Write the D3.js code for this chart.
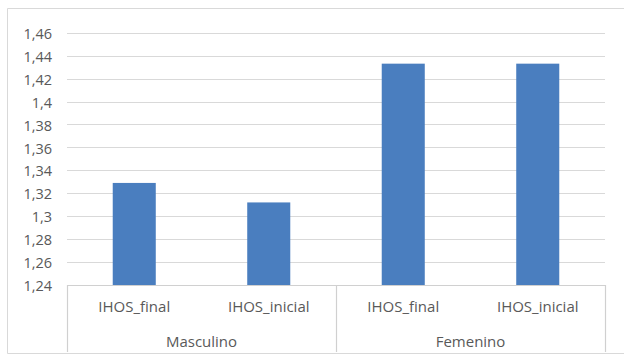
<!DOCTYPE html>
<html>
<head>
<meta charset="utf-8">
<script src="https://cdn.jsdelivr.net/npm/d3@7/dist/d3.min.js"></script>
<style>
  html, body { margin: 0; padding: 0; background: #fff; }
  svg { display: block; }
  text { font-family: "Open Sans", "Liberation Sans", Arial, sans-serif; fill: #595959; }
</style>
</head>
<body>
<svg id="chart" width="624" height="357"></svg>
<script>
// IHOS by sex, final vs. initial measurement
const groups = ["Masculino", "Femenino"];
const measures = ["IHOS_final", "IHOS_inicial"];
const masculinoValues = [1.329, 1.312];
const femeninoValues = [1.433, 1.433];
const yTicks = [1.24, 1.26, 1.28, 1.30, 1.32, 1.34, 1.36, 1.38, 1.40, 1.42, 1.44, 1.46];

const rows = [];
[masculinoValues, femeninoValues].forEach((vals, gi) => {
  vals.forEach((v, mi) => rows.push({ group: groups[gi], measure: measures[mi], key: groups[gi] + "|" + measures[mi], value: v }));
});

const svg = d3.select("#chart");
const plotLeft = 67, plotRight = 605, plotTop = 32.7, plotBottom = 285, axisBottom = 352;
const fontStack = "'Open Sans', 'Liberation Sans', Arial, sans-serif";

// chart area frame (right edge runs off the canvas)
svg.append("path")
  .attr("d", `M700,8.5 H7.5 V353.5 H700`)
  .attr("fill", "none").attr("stroke", "#d9d9d9").attr("stroke-width", 1);

const y = d3.scaleLinear().domain([1.24, 1.46]).range([plotBottom, plotTop]);
const x = d3.scaleBand().domain(rows.map(d => d.key)).range([plotLeft, plotRight]).padding(0);
const barW = x.bandwidth() * 0.32;

const fmt = v => d3.format(".2~f")(v).replace(".", ",");

// horizontal gridlines
svg.append("g").selectAll("line").data(yTicks.slice(1)).join("line")
  .attr("x1", plotLeft).attr("x2", plotRight)
  .attr("y1", d => Math.round(y(d)) + 0.5).attr("y2", d => Math.round(y(d)) + 0.5)
  .attr("stroke", "#d9d9d9").attr("stroke-width", 1.2);

// value axis labels
const yAxis = d3.axisLeft(y).tickValues(yTicks).tickFormat(fmt).tickSize(0).tickPadding(0);
const gy = svg.append("g").attr("transform", `translate(${52},1)`).call(yAxis);
gy.select(".domain").remove();
gy.selectAll("text").attr("font-size", 14.5).style("font-family", fontStack).attr("fill", "#595959");

// bars
svg.append("g").selectAll("rect").data(rows).join("rect")
  .attr("x", d => x(d.key) + (x.bandwidth() - barW) / 2)
  .attr("width", barW)
  .attr("y", d => y(d.value))
  .attr("height", d => y(1.24) - y(d.value))
  .attr("fill", "#4a7ebf");

// category axis: baseline and group separators
const axis = svg.append("g").attr("stroke", "#d0d0d0").attr("stroke-width", 1.2);
axis.append("line").attr("x1", plotLeft).attr("x2", plotRight).attr("y1", plotBottom + 0.5).attr("y2", plotBottom + 0.5);
const groupEdges = [plotLeft];
groups.forEach(g => {
  const keys = rows.filter(r => r.group === g).map(r => r.key);
  groupEdges.push(x(keys[keys.length - 1]) + x.bandwidth());
});
axis.selectAll(".sep").data(groupEdges).join("line")
  .attr("x1", d => Math.round(d) + 0.5).attr("x2", d => Math.round(d) + 0.5)
  .attr("y1", plotBottom).attr("y2", axisBottom);

// measure labels
svg.append("g").selectAll("text").data(rows).join("text")
  .attr("x", d => x(d.key) + x.bandwidth() / 2)
  .attr("y", 307)
  .attr("dy", "0.35em")
  .attr("text-anchor", "middle")
  .attr("font-size", 15)
  .text(d => d.measure);

// group labels
svg.append("g").selectAll("text").data(groups).join("text")
  .attr("x", g => {
    const keys = rows.filter(r => r.group === g).map(r => r.key);
    return (x(keys[0]) + x(keys[keys.length - 1]) + x.bandwidth()) / 2;
  })
  .attr("y", 341.5)
  .attr("dy", "0.35em")
  .attr("text-anchor", "middle")
  .attr("font-size", 15)
  .text(g => g);
</script>
</body>
</html>
